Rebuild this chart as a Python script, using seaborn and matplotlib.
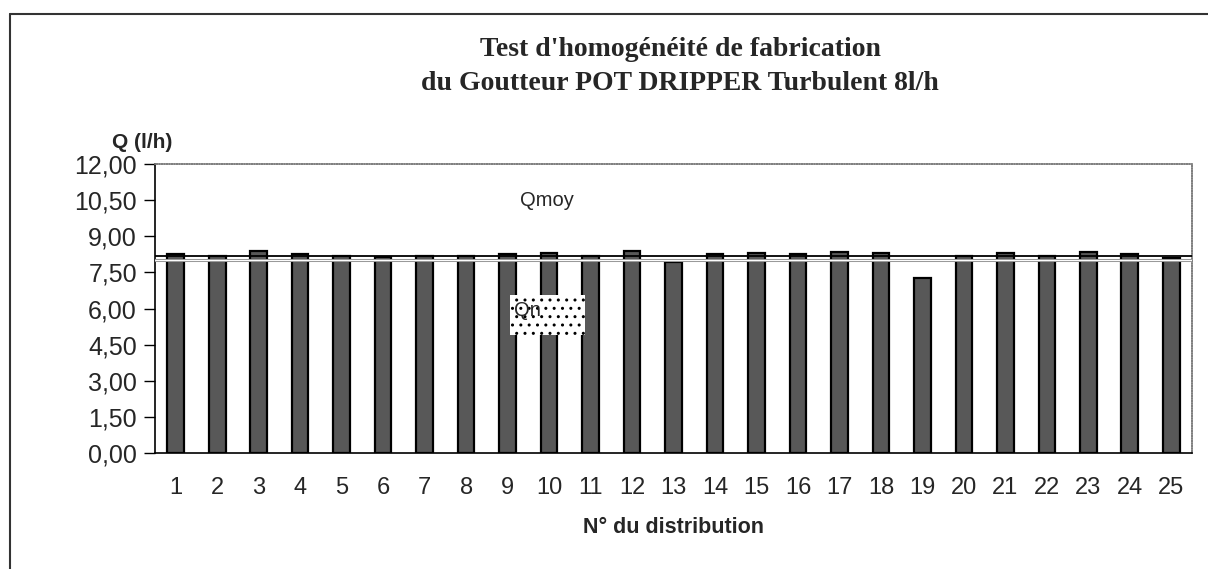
import numpy as np
import pandas as pd
import matplotlib
matplotlib.use("Agg")
import matplotlib.pyplot as plt
from matplotlib.lines import Line2D
from matplotlib.patches import Rectangle
import seaborn as sns

# debits mesures par goutteur (l/h)
distribution = list(range(1, 26))
debit = [8.26, 8.19, 8.37, 8.26, 8.18, 8.13, 8.18, 8.18, 8.26, 8.29,
         8.18, 8.39, 7.93, 8.25, 8.29, 8.25, 8.35, 8.29, 7.28, 8.18,
         8.29, 8.18, 8.35, 8.25, 8.10]
qmoy = 8.18
qn = 8.00
yticks = [0, 1.5, 3, 4.5, 6, 7.5, 9, 10.5, 12]

df = pd.DataFrame({"dist": distribution, "Q": debit})

sns.set_style("white")
plt.rcParams["font.family"] = ["Liberation Sans", "DejaVu Sans"]

fig = plt.figure(figsize=(12.08, 5.69), dpi=100)
ax = fig.add_axes([155 / 1208, 116 / 569, 1037 / 1208, 289 / 569])

sns.barplot(data=df, x="dist", y="Q", color="#585858", saturation=1,
            edgecolor="black", linewidth=1.6, width=0.4, ax=ax)

ax.axhline(qmoy, color="black", lw=1.3, zorder=3)
ax.axhline(qn, color="#9a9a9a", lw=2.2, zorder=3)
ax.axhline(qn, color="white", lw=0.7, zorder=3)

ax.set_ylim(0, 12)
ax.set_xlim(-0.5, len(distribution) - 0.5)
ax.set_yticks(yticks)
ax.set_yticklabels([f"{v:.2f}".replace(".", ",") for v in yticks], fontsize=18)
ax.set_xticks(range(len(distribution)))
ax.set_xticklabels([str(d) for d in distribution], fontsize=17)
ax.set_xticks(np.arange(-0.5, len(distribution), 1), minor=True)
ax.tick_params(axis="x", which="major", length=0, pad=17)
ax.tick_params(axis="x", which="minor", length=6, width=1, color="black", direction="out")
ax.tick_params(axis="y", length=8, width=1, color="black", direction="out", left=True, pad=5)

for s in ["left", "bottom"]:
    ax.spines[s].set_color("black")
    ax.spines[s].set_linewidth(1.2)
for s in ["top", "right"]:
    ax.spines[s].set_color("#808080")
    ax.spines[s].set_linewidth(1.2)
    ax.spines[s].set_linestyle((0, (1, 0.5)))

ax.set_xlabel("N° du distribution", fontsize=15.5, fontweight="bold", labelpad=13)
ax.set_ylabel("")

ax.text(8.3, 10.5, "Qmoy", fontsize=14.5, ha="left", va="center")
ax.add_patch(Rectangle((8.06, 4.9), 1.81, 1.66, facecolor="white", edgecolor="black",
                       hatch="..", linewidth=0, zorder=4))
ax.text(8.15, 5.9, "Qn", fontsize=14.5, ha="left", va="center", zorder=5)

fig.text(142 / 1208, 1 - 142 / 569, "Q (l/h)", fontsize=15, fontweight="bold",
         ha="center", va="center")

fig.text(680 / 1208, 1 - 50 / 569, "Test d'homogénéité de fabrication",
         fontsize=20, fontweight="bold", family=["Liberation Serif", "DejaVu Serif"],
         ha="center", va="center")
fig.text(680 / 1208, 1 - 84 / 569, "du Goutteur POT DRIPPER Turbulent 8l/h",
         fontsize=20, fontweight="bold", family=["Liberation Serif", "DejaVu Serif"],
         ha="center", va="center")

# cadre exterieur
y_top = 1 - 14 / 569
x_left = 10 / 1208
fig.add_artist(Line2D([x_left, 1.0], [y_top, y_top], transform=fig.transFigure, color="#333333", lw=1.5))
fig.add_artist(Line2D([x_left, x_left], [0.0, y_top], transform=fig.transFigure, color="#333333", lw=1.5))

fig.savefig("out.png", dpi=100)
